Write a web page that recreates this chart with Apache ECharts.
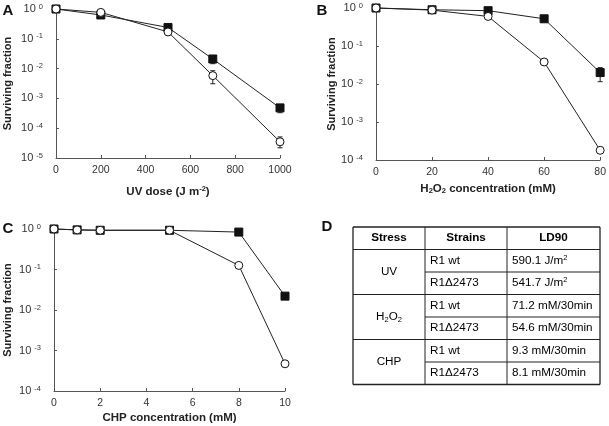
<!DOCTYPE html>
<html>
<head>
<meta charset="utf-8">
<script src="https://cdn.jsdelivr.net/npm/echarts@6/dist/echarts.min.js"></script>
<style>
html,body{margin:0;padding:0;background:#fff;}
#c{width:609px;height:426px;}
</style>
</head>
<body>
<div id="c"></div>
<script>
// ---------- data ----------
const uvDose = [0, 200, 500, 700, 1000];
const uvWt = [1, 0.63, 0.24, 0.021, 4.8e-4];
const uvMut = [1, 0.77, 0.17, 0.0058, 3.5e-5];
const uvWtErr = [[700, 0.0146, 0.025], [1000, 3.3e-4, 5.7e-4]];
const uvMutErr = [[700, 0.0031, 0.0085], [1000, 2.2e-5, 5.1e-5]];

const h2o2Conc = [0, 20, 40, 60, 80];
const h2o2Wt = [1, 0.9, 0.85, 0.52, 0.02];
const h2o2Mut = [1, 0.88, 0.6, 0.038, 1.8e-4];
const h2o2WtErr = [[80, 0.0115, 0.027]];

const chpConc = [0, 1, 2, 5, 8, 10];
const chpWt = [1, 0.95, 0.93, 0.93, 0.84, 0.022];
const chpMut = [1, 0.95, 0.93, 0.93, 0.126, 4.7e-4];

const xTicksA = [0, 200, 400, 600, 800, 1000];
const xTicksB = [0, 20, 40, 60, 80];
const xTicksC = [0, 2, 4, 6, 8, 10];

const tableHeader = ['Stress', 'Strains', 'LD90'];
const stressNames = ['{n|UV}', '{n|H}{sub|2}{n|O}{sub|2}', '{n|CHP}'];
const strainNames = ['R1 wt', 'R1\u03942473'];
const ld90Values = [
  ['{n|590.1 J/m}{sup|2}', '{n|541.7 J/m}{sup|2}'],
  ['{n|71.2 mM/30min}', '{n|54.6 mM/30min}'],
  ['{n|9.3 mM/30min}', '{n|8.1 mM/30min}']
];

// ---------- style ----------
const FF = "'Liberation Sans', Arial, sans-serif";
const AX = '#555';
const TXT = '#333';

function zip(xs, ys) { return xs.map((x, i) => [x, ys[i]]); }

function yLabel(v) {
  const e = Math.round(Math.log10(v));
  return '{b|10}{e|' + e + '}';
}
const yRich = {
  b: { fontSize: 11, color: TXT, fontFamily: FF, lineHeight: 13 },
  e: { fontSize: 7.5, color: TXT, fontFamily: FF, lineHeight: 13, padding: [0, 0, 5, 3] }
};
const nameRich = {
  t: { fontSize: 11.5, fontWeight: 'bold', color: '#222', fontFamily: FF, lineHeight: 14 },
  sup: { fontSize: 7.5, fontWeight: 'bold', color: '#222', fontFamily: FF, lineHeight: 14, padding: [0, 0, 6, 0] },
  sub: { fontSize: 7.5, fontWeight: 'bold', color: '#222', fontFamily: FF, lineHeight: 14, padding: [4, 0, 0, 0] }
};

function xAxis(gi, min, max, interval, name, gap) {
  return {
    type: 'value', gridIndex: gi, min: min, max: max, interval: interval,
    name: name, nameLocation: 'middle', nameGap: gap,
    nameTextStyle: { rich: nameRich },
    axisLine: { lineStyle: { color: AX, width: 1 } },
    axisTick: { inside: true, length: 3, lineStyle: { color: AX } },
    splitLine: { show: false },
    axisLabel: { color: TXT, fontSize: 10.5, fontFamily: FF, margin: 7, formatter: v => String(v) }
  };
}
function yAxis(gi, min, gap) {
  return {
    type: 'log', logBase: 10, gridIndex: gi, min: min, max: 1,
    name: 'Surviving fraction', nameLocation: 'middle', nameGap: gap,
    nameTextStyle: { fontSize: 11, fontWeight: 'bold', color: '#222', fontFamily: FF },
    axisLine: { show: true, lineStyle: { color: AX, width: 1 } },
    axisTick: { show: true, inside: true, length: 3, lineStyle: { color: AX } },
    splitLine: { show: false },
    minorTick: { show: false },
    axisLabel: { formatter: yLabel, rich: yRich, margin: 13, showMinLabel: true, showMaxLabel: true }
  };
}

function lineSeries(gi, data, filled) {
  return {
    type: 'line', xAxisIndex: gi, yAxisIndex: gi, data: data, clip: false,
    symbol: filled ? 'rect' : 'circle', symbolSize: 8,
    lineStyle: { color: '#222', width: 1 },
    itemStyle: { color: filled ? '#111' : '#fff', borderColor: '#111', borderWidth: 1 },
    z: 3, animation: false
  };
}
function errSeries(gi, data) {
  return {
    type: 'custom', xAxisIndex: gi, yAxisIndex: gi, data: data, z: 2, animation: false,
    encode: { x: 0, y: [1, 2] },
    renderItem: function (params, api) {
      const x = api.value(0);
      const lo = api.coord([x, api.value(1)]);
      const hi = api.coord([x, api.value(2)]);
      const st = { stroke: '#222', lineWidth: 1 };
      const c = 2.5;
      return {
        type: 'group', children: [
          { type: 'line', shape: { x1: lo[0], y1: lo[1], x2: hi[0], y2: hi[1] }, style: st },
          { type: 'line', shape: { x1: lo[0] - c, y1: lo[1], x2: lo[0] + c, y2: lo[1] }, style: st },
          { type: 'line', shape: { x1: hi[0] - c, y1: hi[1], x2: hi[0] + c, y2: hi[1] }, style: st }
        ]
      };
    }
  };
}

// ---------- table graphics ----------
const colX = [353, 425, 507, 600];
const rowY = [227, 249.5, 272, 294.5, 317, 339.5, 362, 384.5];
const tRich = {
  n: { fontSize: 11.7, color: '#222', fontFamily: FF, lineHeight: 15 },
  h: { fontSize: 11.7, fontWeight: 'bold', color: '#222', fontFamily: FF, lineHeight: 15 },
  sup: { fontSize: 7.5, color: '#222', fontFamily: FF, lineHeight: 15, padding: [0, 0, 6, 0] },
  sub: { fontSize: 7.5, color: '#222', fontFamily: FF, lineHeight: 15, padding: [5, 0, 0, 0] }
};
const graphics = [];
function hline(x1, x2, y, w) {
  graphics.push({ type: 'line', shape: { x1: x1, y1: y, x2: x2, y2: y }, style: { stroke: '#222', lineWidth: w || 1 } });
}
function vline(x, y1, y2, w) {
  graphics.push({ type: 'line', shape: { x1: x, y1: y1, x2: x, y2: y2 }, style: { stroke: '#222', lineWidth: w || 1 } });
}
function txt(x, y, t, align) {
  graphics.push({ type: 'text', x: x, y: y, style: { text: t, rich: tRich, align: align, verticalAlign: 'middle' } });
}
const last = rowY.length - 1;
hline(colX[0], colX[3], rowY[0], 1.3);
hline(colX[0], colX[3], rowY[last], 1.3);
hline(colX[0], colX[3], rowY[1]);
for (let g = 0; g < 3; g++) {
  const r0 = 1 + g * 2;
  hline(colX[1], colX[3], rowY[r0 + 1]);
  if (g < 2) hline(colX[0], colX[3], rowY[r0 + 2]);
}
vline(colX[0], rowY[0], rowY[last], 1.3);
vline(colX[1], rowY[0], rowY[last]);
vline(colX[2], rowY[0], rowY[last]);
vline(colX[3], rowY[0], rowY[last], 1.3);
tableHeader.forEach((h, i) => txt((colX[i] + colX[i + 1]) / 2, (rowY[0] + rowY[1]) / 2, '{h|' + h + '}', 'center'));
for (let g = 0; g < 3; g++) {
  const r0 = 1 + g * 2;
  txt((colX[0] + colX[1]) / 2, rowY[r0 + 1], stressNames[g], 'center');
  for (let k = 0; k < 2; k++) {
    const yc = (rowY[r0 + k] + rowY[r0 + k + 1]) / 2;
    txt(colX[1] + 5, yc, '{n|' + strainNames[k] + '}', 'left');
    txt(colX[2] + 5, yc, ld90Values[g][k], 'left');
  }
}
// panel letters
[['A', 8, 11], ['B', 322, 11], ['C', 8, 229], ['D', 327, 227]].forEach(p => {
  graphics.push({ type: 'text', x: p[1], y: p[2], style: { text: p[0], font: 'bold 15px ' + FF, fill: '#111', align: 'center', verticalAlign: 'middle' } });
});

// ---------- chart ----------
const chart = echarts.init(document.getElementById('c'), null, { renderer: 'canvas' });
chart.setOption({
  animation: false,
  backgroundColor: '#fff',
  grid: [
    { left: 56, top: 9, width: 224, height: 149 },
    { left: 376, top: 8, width: 226, height: 152 },
    { left: 54, top: 229, width: 231, height: 162 }
  ],
  xAxis: [
    xAxis(0, xTicksA[0], xTicksA[xTicksA.length - 1], xTicksA[1] - xTicksA[0], '{t|UV dose (J m}{sup|-2}{t|)}', 27),
    xAxis(1, xTicksB[0], xTicksB[xTicksB.length - 1], xTicksB[1] - xTicksB[0], '{t|H}{sub|2}{t|O}{sub|2}{t| concentration (mM)}', 22),
    xAxis(2, xTicksC[0], xTicksC[xTicksC.length - 1], xTicksC[1] - xTicksC[0], '{t|CHP concentration (mM)}', 20)
  ],
  yAxis: [
    yAxis(0, 1e-5, 43),
    yAxis(1, 1e-4, 38),
    yAxis(2, 1e-4, 41)
  ],
  series: [
    errSeries(0, uvWtErr), errSeries(0, uvMutErr), errSeries(1, h2o2WtErr),
    lineSeries(0, zip(uvDose, uvWt), true),
    lineSeries(0, zip(uvDose, uvMut), false),
    lineSeries(1, zip(h2o2Conc, h2o2Wt), true),
    lineSeries(1, zip(h2o2Conc, h2o2Mut), false),
    lineSeries(2, zip(chpConc, chpWt), true),
    lineSeries(2, zip(chpConc, chpMut), false)
  ],
  graphic: graphics
});
</script>
</body>
</html>
